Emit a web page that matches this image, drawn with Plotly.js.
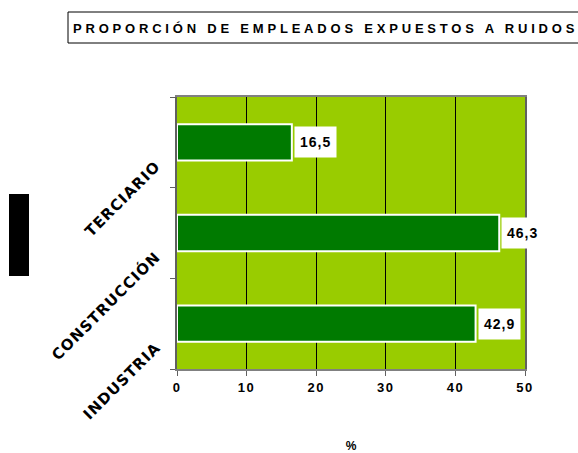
<!DOCTYPE html>
<html>
<head>
<meta charset="utf-8">
<script src="https://cdn.plot.ly/plotly-3.0.1.min.js"></script>
<style>html,body{margin:0;padding:0;background:#fff;}#chart{width:578px;height:453px;}</style>
</head>
<body>
<div id="chart"></div>
<script>
// Data
const titleText = 'PROPORCIÓN DE EMPLEADOS EXPUESTOS A RUIDOS';
const categories = ['INDUSTRIA', 'CONSTRUCCIÓN', 'TERCIARIO'];
const values = [42.9, 46.3, 16.5];
const xTickVals = [0, 10, 20, 30, 40, 50];
const xTickText = ['0', '10', '20', '30', '40', '50'];
const xTitle = '%';

const fmt = v => v.toFixed(1).replace('.', ',');

const W = 578, H = 453;
const L = 177, R = 525, T = 97, B = 369;
const pw = R - L, ph = B - T;
const px = x => (x - L) / pw;
const py = y => (B - y) / ph;
const FONT = 'Liberation Sans, Arial, sans-serif';

const trace = {
  type: 'bar',
  orientation: 'h',
  y: categories,
  x: values,
  width: 0.4,
  marker: { color: '#007A00', line: { color: '#ffffff', width: 2 } },
  hoverinfo: 'none'
};

const labelAnns = values.map((v, i) => ({
  x: v, y: categories[i], xref: 'x', yref: 'y',
  text: fmt(v), showarrow: false, xanchor: 'left', yanchor: 'middle',
  xshift: 2, bgcolor: '#ffffff', borderpad: 7,
  font: { family: FONT, size: 14, color: '#000', weight: 'bold' }
}));

const layout = {
  width: W, height: H,
  margin: { l: L, r: W - R, t: T, b: H - B, pad: 0 },
  paper_bgcolor: '#ffffff',
  plot_bgcolor: '#99CC00',
  showlegend: false,
  title: {
    text: titleText,
    x: 73 / W, xanchor: 'left', xref: 'container',
    y: 1 - 28 / H, yanchor: 'middle', yref: 'container',
    font: { family: FONT, size: 13, color: '#000', weight: 'bold' }
  },
  xaxis: {
    range: [0, 50], tickvals: xTickVals, ticktext: xTickText,
    showgrid: true, gridcolor: '#000000', gridwidth: 1,
    zeroline: false, showline: true, linecolor: '#808080', linewidth: 2, mirror: true,
    ticks: 'outside', ticklen: 5, tickcolor: '#606060',
    tickfont: { family: FONT, size: 13, color: '#000', weight: 'bold' },
    title: { text: xTitle, standoff: 48, font: { family: FONT, size: 12, color: '#000', weight: 'bold' } },
    automargin: false, fixedrange: true
  },
  yaxis: {
    type: 'category', categoryorder: 'array', categoryarray: categories,
    range: [-0.5, 2.5],
    showgrid: false, zeroline: false,
    showline: true, linecolor: '#606060', linewidth: 2, mirror: true,
    ticks: 'outside', ticklen: 5, tickcolor: '#606060', tickson: 'boundaries',
    tickangle: -45,
    ticklabelstandoff: 16,
    ticklabelshift: 22,
    tickfont: { family: 'DejaVu Sans, sans-serif', size: 15, color: '#000', weight: 'bold' },
    automargin: false, fixedrange: true
  },
  annotations: labelAnns,
  shapes: [
    { type: 'rect', xref: 'paper', yref: 'paper',
      x0: px(68), x1: px(590), y0: py(43), y1: py(12),
      line: { color: '#000', width: 1 }, fillcolor: 'rgba(0,0,0,0)', layer: 'above' },
    { type: 'rect', xref: 'paper', yref: 'paper',
      x0: px(9), x1: px(29), y0: py(276), y1: py(194),
      line: { width: 0 }, fillcolor: '#000000', layer: 'above' }
  ]
};

Plotly.newPlot('chart', [trace], layout, { displayModeBar: false, staticPlot: true }).then(() => {
  const t = document.querySelector('.gtitle');
  if (t) { t.style.letterSpacing = '3.8px'; }
  document.querySelectorAll('.xtick text').forEach(el => { el.style.letterSpacing = '1.5px'; });
  document.querySelectorAll('.ytick text').forEach(el => { el.style.letterSpacing = '1px'; });
  document.querySelectorAll('.annotation-text').forEach(el => { el.style.letterSpacing = '1px'; });
});
</script>
</body>
</html>
